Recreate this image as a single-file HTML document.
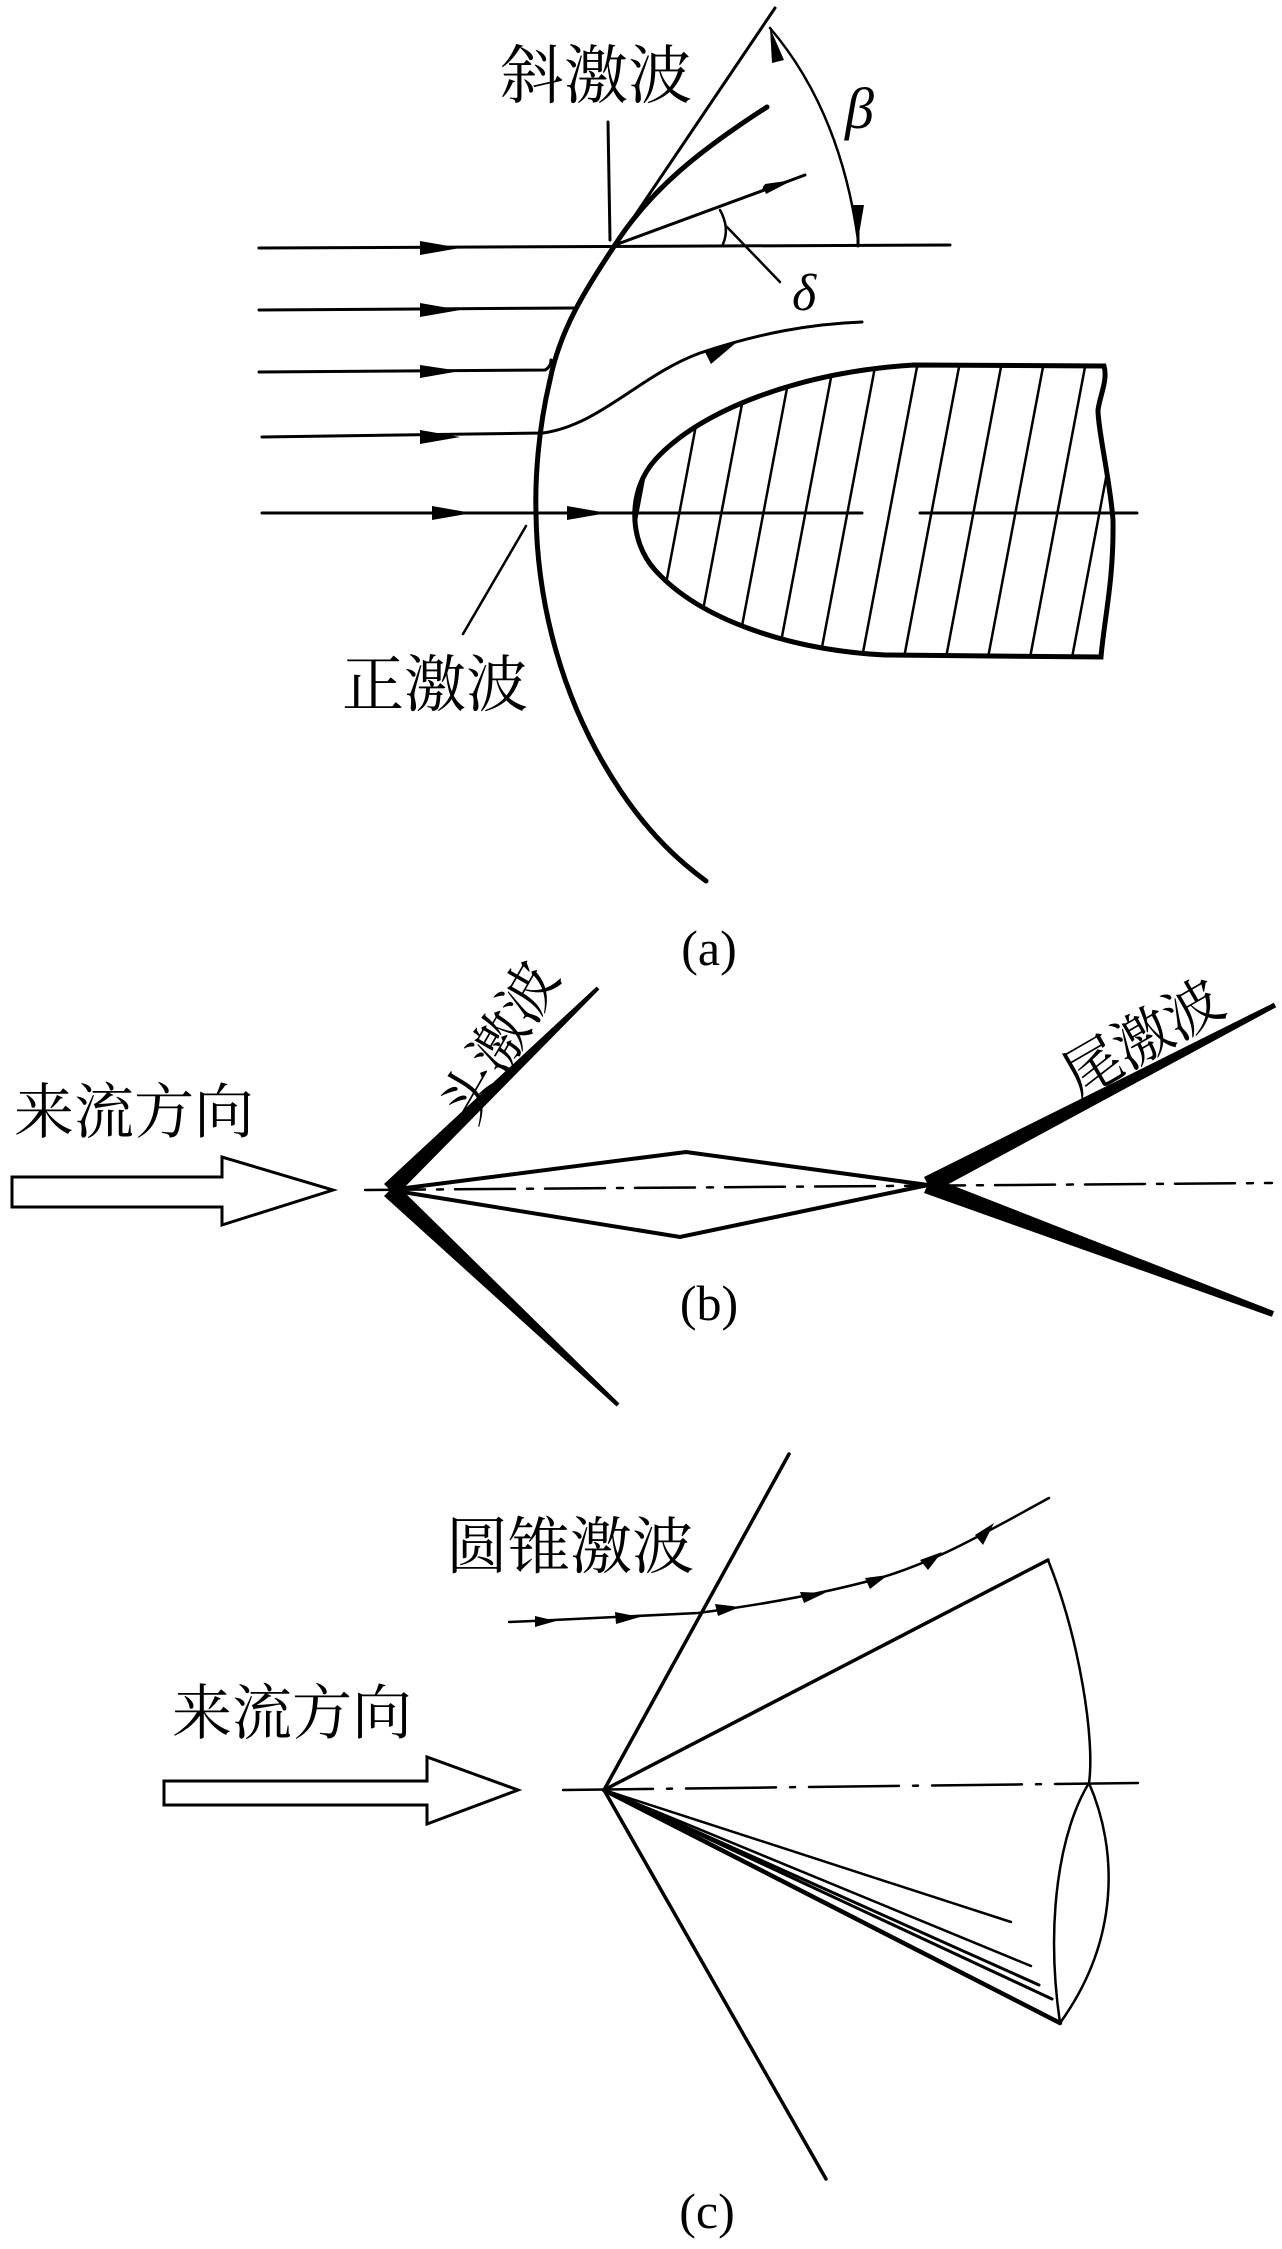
<!DOCTYPE html>
<html><head><meta charset="utf-8"><style>
html,body{margin:0;padding:0;background:#fff;}
svg{display:block;}
text{font-family:"Liberation Serif","Noto Serif CJK SC","Noto Sans CJK SC",serif;fill:#000;}
</style></head><body>
<svg width="1282" height="2249" viewBox="0 0 1282 2249" xmlns="http://www.w3.org/2000/svg">
<defs>
<clipPath id="bc"><path d="M1104,366 L914,365 C800,372 700,410 655,460 C628,490 628,540 655,570 C700,620 790,650 885,655 L1101,657 C1104,620 1114,580 1113,520 C1110,480 1098,430 1098,410 C1100,395 1108,380 1104,366Z"/></clipPath>
</defs>
<g fill="none" stroke="#000" stroke-linecap="round">
<path d="M767,107 C700,150 650,190 615,245 C585,290 560,330 550,380 C538,430 535,480 536,513 C537,600 560,700 620,790 C650,835 680,862 706,881" stroke-width="5"/>
<line x1="615" y1="245" x2="775" y2="8" stroke-width="3"/>
<line x1="608" y1="122" x2="610" y2="240" stroke-width="3"/>
<line x1="259" y1="248" x2="950" y2="245" stroke-width="3"/>
<line x1="259" y1="310" x2="575" y2="308" stroke-width="3"/>
<path d="M259,372 L545,370 C549,368 551,364 551,360" stroke-width="3"/>
<path d="M262,437 L543,433 C600,425 640,375 700,353 C760,333 810,324 862,322" stroke-width="3"/>
<line x1="262" y1="513" x2="862" y2="513" stroke-width="3"/>
<line x1="920" y1="513" x2="1137" y2="513" stroke-width="3"/>
<line x1="615" y1="245" x2="805" y2="175" stroke-width="3"/>
<path d="M770,28 Q840,110 858,240" stroke-width="2.5"/>
<line x1="858" y1="215" x2="858" y2="246" stroke-width="3"/>
<path d="M720,210 Q730,228 723,244" stroke-width="2.5"/>
<line x1="727" y1="227" x2="780" y2="282" stroke-width="2.5"/>
<line x1="526" y1="526" x2="463" y2="634" stroke-width="2.5"/>
<g clip-path="url(#bc)" stroke-width="2.5">
<line x1="560" y1="700" x2="630" y2="330"/><line x1="602" y1="700" x2="672" y2="330"/><line x1="644" y1="700" x2="714" y2="330"/><line x1="686" y1="700" x2="756" y2="330"/><line x1="728" y1="700" x2="798" y2="330"/><line x1="770" y1="700" x2="840" y2="330"/><line x1="812" y1="700" x2="882" y2="330"/><line x1="854" y1="700" x2="924" y2="330"/><line x1="896" y1="700" x2="966" y2="330"/><line x1="938" y1="700" x2="1008" y2="330"/><line x1="980" y1="700" x2="1050" y2="330"/><line x1="1022" y1="700" x2="1092" y2="330"/><line x1="1064" y1="700" x2="1134" y2="330"/><line x1="1106" y1="700" x2="1176" y2="330"/>
</g>
<path d="M1104,366 L914,365 C800,372 700,410 655,460 C628,490 628,540 655,570 C700,620 790,650 885,655 L1101,657 C1104,620 1114,580 1113,520 C1110,480 1098,430 1098,410 C1100,395 1108,380 1104,366Z" stroke-width="5"/>
<path d="M12,1177 L222,1177 L222,1157 L333,1190 L222,1225 L222,1207 L12,1207 Z" stroke-width="3"/>
<line x1="365" y1="1190" x2="1272" y2="1183" stroke-width="2.5" stroke-dasharray="60,12,6,12"/>
<path d="M390,1190 L686,1152 L928,1185 L680,1237 Z" stroke-width="4" stroke-linejoin="miter"/>
<path d="M789,1454 L604,1790 L826,2179" stroke-width="3.5"/>
<path d="M509,1622 C560,1620 600,1618 698,1613 C760,1605 822,1594 880,1578 C940,1560 990,1530 1049,1498" stroke-width="2.5"/>
<line x1="604" y1="1790" x2="1048" y2="1560" stroke-width="3.5"/>
<line x1="563" y1="1790" x2="1138" y2="1783" stroke-width="2.5" stroke-dasharray="90,14,5,14"/>
<path d="M1048,1560 C1080,1640 1095,1740 1089,1783 C1118,1850 1120,1940 1060,2023" stroke-width="2.5"/>
<path d="M1089,1783 C1060,1830 1045,1920 1060,2023" stroke-width="2.5"/>
<line x1="604" y1="1790" x2="1060" y2="2023" stroke-width="4.5"/>
<line x1="604" y1="1790" x2="1052" y2="1999" stroke-width="3"/>
<line x1="604" y1="1790" x2="1039" y2="1985" stroke-width="3"/>
<line x1="604" y1="1790" x2="1031" y2="1966" stroke-width="2.5"/>
<line x1="604" y1="1790" x2="1011" y2="1922" stroke-width="2.5"/>
<path d="M164,1781 L427,1781 L427,1757 L518,1790 L427,1824 L427,1805 L164,1805 Z" stroke-width="3"/>
</g>
<g fill="#000">
<polygon points="420,241 460,248 420,255"/>
<polygon points="420,303 460,310 420,317"/>
<polygon points="420,365 460,371 420,378"/>
<polygon points="420,430 460,437 420,444"/>
<polygon points="432,506 472,513 432,520"/>
<polygon points="567,506 607,513 567,520"/>
<polygon points="737,342 711,364 705,352"/>
<polygon points="760,193 793,180 765,184"/>
<polygon points="763,186 793,180 766,194"/>
<polygon points="770,28 784,60 772,63"/>
<polygon points="858,240 852,205 864,205"/>
<polygon points="384,1184 596.6,986.6 599.4,989.4 396,1196"/>
<polygon points="384,1196 616.6,1406.5 619.4,1403.5 396,1184"/>
<polygon points="932,1193 1276.2,1007.2 1273.8,1002.8 924,1177"/>
<polygon points="924,1193 1271.9,1316.8 1274.1,1311.2 931,1177"/>
<polygon points="535,1616 556,1621 535,1627"/>
<polygon points="615,1612 640,1617 616,1624"/>
<polygon points="715,1604 740,1607 718,1616"/>
<polygon points="800,1592 825,1593 804,1603"/>
<polygon points="865,1578 888,1575 870,1589"/>
<polygon points="920,1560 942,1552 928,1570"/>
<polygon points="975,1535 994,1523 983,1545"/>
</g>
<text x="500" y="98" font-size="64">斜激波</text>
<text x="342" y="706" font-size="62">正激波</text>
<text x="792" y="310" font-size="52" font-style="italic">δ</text>
<text x="845" y="128" font-size="58" font-style="italic">β</text>
<text x="709" y="965" font-size="50" text-anchor="middle">(a)</text>
<text x="14" y="1133" font-size="60">来流方向</text>
<text x="500" y="1062" font-size="58" text-anchor="middle" transform="rotate(-60 500 1042)">头激波</text>
<text x="1143" y="1058" font-size="58" text-anchor="middle" transform="rotate(-30 1143 1038)">尾激波</text>
<text x="709" y="1320" font-size="50" text-anchor="middle">(b)</text>
<text x="446" y="1568" font-size="62">圆锥激波</text>
<text x="172" y="1734" font-size="60">来流方向</text>
<text x="707" y="2228" font-size="50" text-anchor="middle">(c)</text>
</svg>
</body></html>
